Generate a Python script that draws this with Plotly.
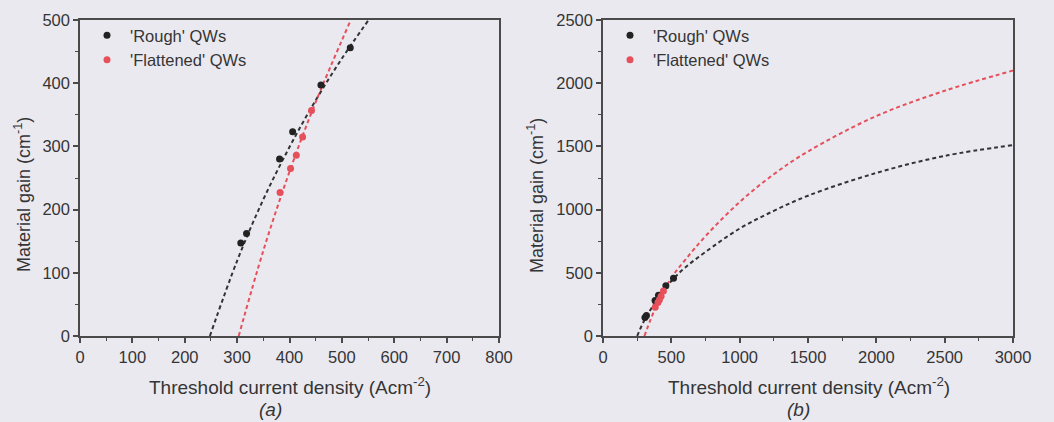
import plotly.graph_objects as go

# Measured threshold gain points
rough_j = [307, 318, 381, 406, 460, 516]
rough_g = [147, 162, 280, 323, 397, 456]
flat_j = [382, 402, 413, 425, 442]
flat_g = [227, 265, 286, 315, 357]

# Fitted gain-current curves, panel (a) range
rough_fit_j_a = [248, 300, 350, 400, 450, 500, 551]
rough_fit_g_a = [0, 119, 216, 299, 373, 439, 500]
flat_fit_j_a = [303, 350, 400, 450, 517]
flat_fit_g_a = [0, 135, 260, 370, 500]

# Fitted gain-current curves, extended to panel (b) range
rough_fit_j_b = [250, 300, 400, 500, 600, 750, 1000, 1250, 1500, 2000, 2500, 3000]
rough_fit_g_b = [0, 118, 295, 435, 540, 665, 850, 990, 1110, 1290, 1425, 1510]
flat_fit_j_b = [303, 350, 400, 500, 600, 750, 1000, 1250, 1500, 2000, 2500, 3000]
flat_fit_g_b = [0, 135, 260, 460, 600, 790, 1060, 1280, 1460, 1740, 1940, 2100]

W, H = 1054, 422
BG = "#ebe9f0"
BLACK = "#222222"
RED = "#e5505a"
AXIS = "#4a4a4a"
TXT = "#353535"
FONT = "Liberation Sans, Arial, sans-serif"


def px_x(p):
    return p / W


def px_y(p):
    return 1 - p / H


fig = go.Figure()

line_style = dict(width=2, dash="4px,3px")

# Panel (a)
fig.add_trace(go.Scatter(x=rough_fit_j_a, y=rough_fit_g_a, mode="lines", line_shape="spline",
                         line=dict(color="#333333", **line_style), showlegend=False,
                         xaxis="x", yaxis="y"))
fig.add_trace(go.Scatter(x=flat_fit_j_a, y=flat_fit_g_a, mode="lines", line_shape="spline",
                         line=dict(color=RED, **line_style), showlegend=False,
                         xaxis="x", yaxis="y"))
fig.add_trace(go.Scatter(x=rough_j, y=rough_g, mode="markers", name="'Rough' QWs",
                         marker=dict(color=BLACK, size=7), xaxis="x", yaxis="y",
                         legend="legend"))
fig.add_trace(go.Scatter(x=flat_j, y=flat_g, mode="markers", name="'Flattened' QWs",
                         marker=dict(color=RED, size=7), xaxis="x", yaxis="y",
                         legend="legend"))

# Panel (b)
fig.add_trace(go.Scatter(x=rough_fit_j_b, y=rough_fit_g_b, mode="lines", line_shape="spline",
                         line=dict(color="#333333", **line_style), showlegend=False,
                         xaxis="x2", yaxis="y2"))
fig.add_trace(go.Scatter(x=flat_fit_j_b, y=flat_fit_g_b, mode="lines", line_shape="spline",
                         line=dict(color=RED, **line_style), showlegend=False,
                         xaxis="x2", yaxis="y2"))
fig.add_trace(go.Scatter(x=rough_j, y=rough_g, mode="markers", name="'Rough' QWs",
                         marker=dict(color=BLACK, size=7), xaxis="x2", yaxis="y2",
                         legend="legend2"))
fig.add_trace(go.Scatter(x=flat_j, y=flat_g, mode="markers", name="'Flattened' QWs",
                         marker=dict(color=RED, size=7), xaxis="x2", yaxis="y2",
                         legend="legend2"))

axis_common = dict(
    showgrid=False, zeroline=False, showline=True, linecolor=AXIS, linewidth=1.5,
    mirror=True, ticks="outside", ticklen=5, tickwidth=1.5, tickcolor=AXIS,
    automargin=False,
    tickfont=dict(family=FONT, size=16.5, color=TXT),
)


def minor(step):
    return dict(dtick=step, ticks="outside", ticklen=3, tickcolor=AXIS, tickwidth=1.2)


y_dom = [px_y(336), px_y(20)]
legend_font = dict(family=FONT, size=16.5, color=TXT)

fig.update_layout(
    template="none",
    width=W, height=H,
    margin=dict(l=0, r=0, t=0, b=0, pad=0),
    paper_bgcolor=BG, plot_bgcolor=BG,
    font=dict(family=FONT, color=TXT),
    xaxis=dict(domain=[px_x(80), px_x(499)], range=[0, 800], dtick=100, anchor="y",
               minor=minor(50), **axis_common),
    yaxis=dict(domain=y_dom, range=[0, 500], dtick=100, anchor="x",
               minor=minor(50), **axis_common),
    xaxis2=dict(domain=[px_x(603), px_x(1013)], range=[0, 3000], dtick=500, anchor="y2",
                minor=minor(250), **axis_common),
    yaxis2=dict(domain=y_dom, range=[0, 2500], dtick=500, anchor="x2",
                minor=minor(250), **axis_common),
    legend=dict(x=px_x(84), y=px_y(18), xanchor="left", yanchor="top", itemwidth=36,
                bgcolor="rgba(0,0,0,0)", borderwidth=0, font=legend_font),
    legend2=dict(x=px_x(607), y=px_y(18), xanchor="left", yanchor="top", itemwidth=36,
                 bgcolor="rgba(0,0,0,0)", borderwidth=0, font=legend_font),
)

x_title_font = dict(family=FONT, size=19, color=TXT)
y_title_font = dict(family=FONT, size=18, color=TXT)
annotations = [
    dict(text="Threshold current density (Acm<sup>-2</sup>)", x=px_x(290), y=px_y(386), font=x_title_font),
    dict(text="Threshold current density (Acm<sup>-2</sup>)", x=px_x(809), y=px_y(386), font=x_title_font),
    dict(text="<i>(a)</i>", x=px_x(270), y=px_y(409), font=x_title_font),
    dict(text="<i>(b)</i>", x=px_x(798), y=px_y(409), font=x_title_font),
    dict(text="Material gain (cm<sup>-1</sup>)", x=px_x(22), y=px_y(195), textangle=-90, font=y_title_font),
    dict(text="Material gain (cm<sup>-1</sup>)", x=px_x(535), y=px_y(196), textangle=-90, font=y_title_font),
]
for a in annotations:
    fig.add_annotation(xref="paper", yref="paper", showarrow=False,
                       xanchor="center", yanchor="middle", **a)

fig.write_html("out.html")
